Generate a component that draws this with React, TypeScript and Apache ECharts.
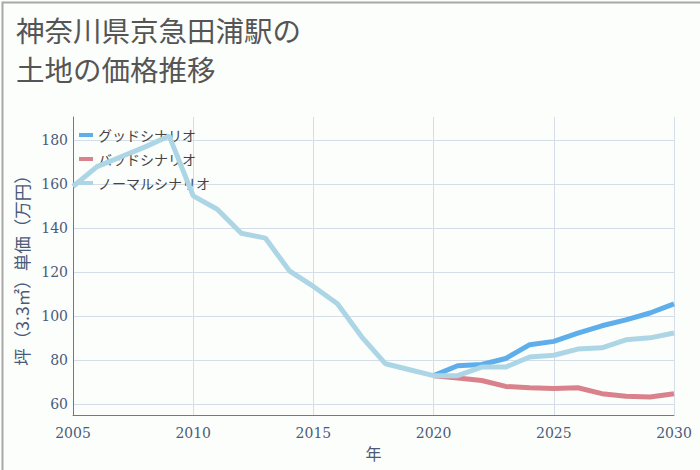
import React, { useEffect, useRef } from "react";
import * as echarts from "echarts";

const years = [2005, 2006, 2007, 2008, 2009, 2010, 2011, 2012, 2013, 2014, 2015, 2016, 2017, 2018, 2019, 2020, 2021, 2022, 2023, 2024, 2025, 2026, 2027, 2028, 2029, 2030];
const normalHist = [159, 168, 172.5, 177, 182, 154.7, 148.6, 137.7, 135.5, 120.6, 113.5, 105.6, 90.7, 78.3, 75.6, 72.9];
const futureYears = [2020, 2021, 2022, 2023, 2024, 2025, 2026, 2027, 2028, 2029, 2030];
const goodVals = [72.9, 77.4, 78.0, 80.7, 87.0, 88.5, 92.3, 95.6, 98.3, 101.4, 105.6];
const badVals = [72.9, 71.8, 70.7, 68.0, 67.4, 67.1, 67.4, 64.7, 63.5, 63.2, 64.7];
const normalFuture = [72.9, 72.9, 76.8, 76.8, 81.4, 82.2, 85.0, 85.6, 89.2, 90.1, 92.3];
const seriesNames = ["グッドシナリオ", "バッドシナリオ", "ノーマルシナリオ"];
const titleLines = ["神奈川県京急田浦駅の", "土地の価格推移"];

export default function App() {
  const ref = useRef<HTMLDivElement>(null);
  useEffect(() => {
    if (!ref.current) return;
    const chart = echarts.init(ref.current, null, { renderer: "svg" });
    const normalYears = years.slice(0, normalHist.length);
    const normalData = normalYears.map((y, i) => [y, normalHist[i]]).concat(
      futureYears.slice(1).map((y, i) => [y, normalFuture[i + 1]])
    );
    chart.setOption({
      animation: false,
      backgroundColor: "#fcfefc",
      title: {
        text: titleLines.join("\n"),
        left: 11,
        top: 5,
        textStyle: { fontSize: 28.5, fontWeight: "normal", color: "#555", lineHeight: 39, fontFamily: "Noto Sans CJK JP" },
      },
      legend: {
        left: 74,
        top: 123,
        orient: "vertical",
        itemWidth: 14,
        itemHeight: 4,
        itemGap: 10,
        icon: "rect",
        textStyle: { fontSize: 14, color: "#444", fontFamily: "Noto Sans CJK JP" },
        data: seriesNames,
      },
      grid: { left: 73, right: 26, top: 117, bottom: 55 },
      xAxis: {
        type: "value",
        min: 2005,
        max: 2030,
        interval: 5,
        name: "年",
        nameLocation: "middle",
        nameGap: 28,
        nameTextStyle: { fontSize: 16, color: "#4a5a78", fontFamily: "Noto Sans CJK JP" },
        axisLine: { lineStyle: { color: "#6a7a96" } },
        axisTick: { show: false },
        axisLabel: { fontSize: 14, color: "#4a5a78", fontFamily: "DejaVu Serif", margin: 11, formatter: (v: number) => String(v) },
        splitLine: { show: true, lineStyle: { color: "#d4dde8" } },
      },
      yAxis: {
        type: "value",
        min: 55,
        max: 190.6,
        minInterval: 20,
        maxInterval: 20,
        name: "坪（3.3㎡）単価（万円）",
        nameLocation: "middle",
        nameGap: 40,
        nameTextStyle: { fontSize: 17.5, color: "#4a5a78", fontFamily: "Noto Sans CJK JP" },
        axisLine: { show: true, lineStyle: { color: "#6a7a96" } },
        axisTick: { show: false },
        axisLabel: {
          fontSize: 14,
          color: "#4a5a78",
          fontFamily: "DejaVu Serif",
          margin: 5,
          showMinLabel: false,
          showMaxLabel: false,
          formatter: (v: number) => (v % 20 === 0 ? String(v) : ""),
        },
        splitLine: { show: true, showMinLine: false, showMaxLine: false, lineStyle: { color: "#d4dde8" } },
      },
      series: [
        {
          name: seriesNames[0],
          type: "line",
          data: futureYears.map((y, i) => [y, goodVals[i]]),
          showSymbol: false,
          symbol: "none",
          lineStyle: { width: 5, color: "#5daeea" },
          itemStyle: { color: "#5daeea" },
          z: 3,
        },
        {
          name: seriesNames[1],
          type: "line",
          data: futureYears.map((y, i) => [y, badVals[i]]),
          showSymbol: false,
          symbol: "none",
          lineStyle: { width: 5, color: "#d9828c" },
          itemStyle: { color: "#d9828c" },
          z: 3,
        },
        {
          name: seriesNames[2],
          type: "line",
          data: normalData,
          showSymbol: false,
          symbol: "none",
          lineStyle: { width: 5, color: "#acd6e5" },
          itemStyle: { color: "#acd6e5" },
          z: 4,
        },
      ],
      graphic: [
        {
          type: "rect",
          left: 0,
          top: 0,
          shape: { x: 0.5, y: 0.5, width: 699, height: 469 },
          style: { fill: "none", stroke: "#a8a8a8", lineWidth: 2 },
          silent: true,
        },
      ],
    });
    return () => chart.dispose();
  }, []);
  return <div ref={ref} style={{ position: "absolute", left: 0, top: 0, width: 700, height: 470 }} />;
}
